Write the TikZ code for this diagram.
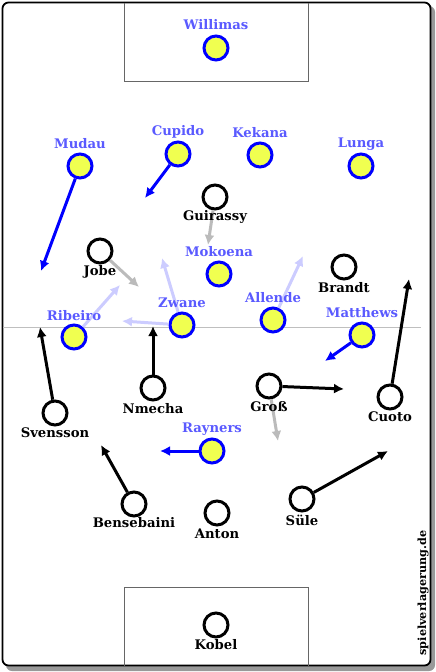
\documentclass[tikz,border=0pt]{standalone}
\usepackage{fontspec}
\setmainfont{DejaVu Serif}
\usetikzlibrary{arrows.meta}
\definecolor{pyellow}{HTML}{F0FF50}
\definecolor{pblue}{HTML}{0000FF}
\definecolor{lblue}{HTML}{5A5AFF}
\definecolor{lav}{HTML}{CCCCFF}
\definecolor{gry}{HTML}{BBBBBB}
\tikzset{
  yel/.style={circle,draw=pblue,fill=pyellow,line width=3pt,minimum size=24pt,inner sep=0pt},
  blk/.style={circle,draw=black,fill=white,line width=3pt,minimum size=24pt,inner sep=0pt},
  ylab/.style={text=lblue,font=\bfseries\fontsize{13.2}{15}\selectfont,inner sep=0pt},
  blab/.style={text=black,font=\bfseries\fontsize{13.2}{15}\selectfont,inner sep=0pt},
  wmark/.style={text=black,font=\bfseries\fontsize{11.2}{13}\selectfont,inner sep=0pt,rotate=90},
  arr/.style={line width=3pt,-{Latex[length=10pt,width=10pt]}},
  barr/.style={arr,draw=black},
  uarr/.style={arr,draw=pblue},
  larr/.style={arr,draw=lav},
  garr/.style={arr,draw=gry},
}
\begin{document}
\begin{tikzpicture}[x=1pt,y=-1pt]
\useasboundingbox (0,0) rectangle (436,672);
% shadow and frame
\fill[gray!80,rounded corners=6pt] (6,6) rectangle (435,671);
\filldraw[fill=white,draw=black,line width=1.8pt,rounded corners=6pt] (2.5,2.5) rectangle (430.5,665.5);
% boxes
\draw[gray!80!black,line width=0.8pt] (124,2.5) -- (124,81) -- (308,81) -- (308,2.5);
\draw[gray!80!black,line width=0.8pt] (124,665.5) -- (124,587) -- (308,587) -- (308,665.5);
% halfway
\draw[gray!50,line width=0.8pt] (3,327) -- (421,327);

% coordinates for arrow ends
\coordinate (mudauE) at (41,271);
\coordinate (cupidoE) at (145,198);
\coordinate (matthewsE) at (325,361);
\coordinate (raynersE) at (160,451);
\coordinate (ribeiroE) at (120,285);
\coordinate (zwaneE1) at (162,258);
\coordinate (zwaneE2) at (122,321);
\coordinate (allendeE) at (303,256);
\coordinate (guirassyE) at (208,245);
\coordinate (jobeE) at (139,287);
\coordinate (grossE1) at (278,441);
\coordinate (svenssonE) at (40,327);
\coordinate (nmechaE) at (153,326);
\coordinate (grossE2) at (344,389);
\coordinate (cuotoE) at (409,279);
\coordinate (bensebainiE) at (101,445);
\coordinate (suleE) at (388,451);

% player nodes
\node[yel] (willimas) at (216,48) {};
\node[yel] (mudau) at (80,166) {};
\node[yel] (cupido) at (178,154) {};
\node[yel] (kekana) at (260,155) {};
\node[yel] (lunga) at (361,166) {};
\node[yel] (mokoena) at (219,274) {};
\node[yel] (zwane) at (182,325) {};
\node[yel] (allende) at (273,320) {};
\node[yel] (ribeiro) at (74,337) {};
\node[yel] (matthews) at (362,335) {};
\node[yel] (rayners) at (212,451) {};

\node[blk] (guirassy) at (215,197) {};
\node[blk] (jobe) at (100,251) {};
\node[blk] (brandt) at (344,267) {};
\node[blk] (nmecha) at (153,388) {};
\node[blk] (gross) at (269,386) {};
\node[blk] (cuoto) at (390,397) {};
\node[blk] (svensson) at (55,413) {};
\node[blk] (bensebaini) at (134,504) {};
\node[blk] (anton) at (217,513) {};
\node[blk] (sule) at (302,499) {};
\node[blk] (kobel) at (216,625) {};

% arrows
\draw[larr] (ribeiro) -- (ribeiroE);
\draw[larr] (zwane) -- (zwaneE1);
\draw[larr] (zwane) -- (zwaneE2);
\draw[larr] (allende) -- (allendeE);
\draw[garr] (guirassy) -- (guirassyE);
\draw[garr] (jobe) -- (jobeE);
\draw[garr] (gross) -- (grossE1);
\draw[uarr] (mudau) -- (mudauE);
\draw[uarr] (cupido) -- (cupidoE);
\draw[uarr] (matthews) -- (matthewsE);
\draw[uarr] (rayners) -- (raynersE);
\draw[barr] (svensson) -- (svenssonE);
\draw[barr] (nmecha) -- (nmechaE);
\draw[barr] (gross) -- (grossE2);
\draw[barr] (cuoto) -- (cuotoE);
\draw[barr] (bensebaini) -- (bensebainiE);
\draw[barr] (sule) -- (suleE);

% labels
\node[ylab] (lwillimas) at (216,25) {Willimas};
\node[ylab] (lmudau) at (80,144) {Mudau};
\node[ylab] (lcupido) at (178,132) {Cupido};
\node[ylab] (lkekana) at (260,133) {Kekana};
\node[ylab] (llunga) at (361,144) {Lunga};
\node[ylab] (lmokoena) at (219,252) {Mokoena};
\node[ylab] (lzwane) at (182,303) {Zwane};
\node[ylab] (lallende) at (273,298) {Allende};
\node[ylab] (lribeiro) at (74,316) {Ribeiro};
\node[ylab] (lmatthews) at (362,313) {Matthews};
\node[ylab] (lrayners) at (212,429) {Rayners};

\node[blab] (lguirassy) at (215,217) {Guirassy};
\node[blab] (ljobe) at (100,272) {Jobe};
\node[blab] (lbrandt) at (344,288) {Brandt};
\node[blab] (lnmecha) at (153,409) {Nmecha};
\node[blab] (lgross) at (269,407) {Groß};
\node[blab] (lcuoto) at (390,417) {Cuoto};
\node[blab] (lsvensson) at (55,433) {Svensson};
\node[blab] (lbensebaini) at (134,523) {Bensebaini};
\node[blab] (lanton) at (217,534) {Anton};
\node[blab] (lsule) at (302,520) {Süle};
\node[blab] (lkobel) at (216,645) {Kobel};

\node[wmark] (wm) at (423,593) {spielverlagerung.de};
\end{tikzpicture}
\end{document}
